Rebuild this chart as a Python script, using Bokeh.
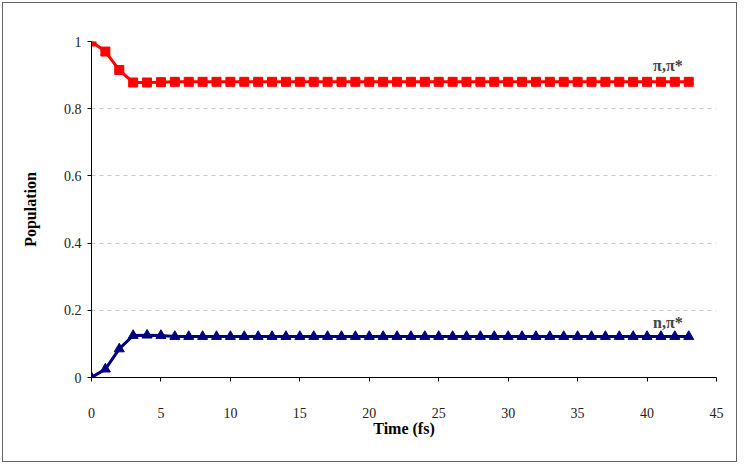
from bokeh.plotting import figure
from bokeh.embed import file_html
from bokeh.resources import INLINE
from bokeh.models import FixedTicker, CustomJSTickFormatter, Label

time_fs = list(range(0, 44))
pipi = [1.0, 0.97, 0.915, 0.878, 0.878, 0.879] + [0.88] * 38
npi = [0.0, 0.025, 0.085, 0.125, 0.126, 0.125] + [0.122] * 38
x_ticks = [0, 5, 10, 15, 20, 25, 30, 35, 40, 45]
y_ticks = [0, 0.2, 0.4, 0.6, 0.8, 1.0]

FONT = "Liberation Serif"

p = figure(width=735, height=460, x_range=(0, 45), y_range=(0, 1),
           output_backend="svg", toolbar_location=None,
           min_border_left=88, min_border_right=22, min_border_top=38, min_border_bottom=86)
p.styles = {"border": "1px solid #666", "margin": "2px"}
p.outline_line_color = None
p.xgrid.grid_line_color = None
p.ygrid.grid_line_color = "#c8c8c8"
p.ygrid.grid_line_dash = "4 4"
p.ygrid.grid_line_width = 1

p.line(time_fs, pipi, line_color="#ff0000", line_width=3)
p.scatter(time_fs, pipi, marker="square", size=9, fill_color="#ff0000", line_color="#ff0000")
p.line(time_fs, npi, line_color="#000080", line_width=3)
p.scatter(time_fs, npi, marker="triangle", size=10, fill_color="#000080", line_color="#000080")

fmt = CustomJSTickFormatter(code="return String(Math.round(tick*10)/10);")
for ax, ticks in ((p.xaxis[0], x_ticks), (p.yaxis[0], y_ticks)):
    ax.ticker = FixedTicker(ticks=ticks)
    ax.formatter = fmt
    ax.minor_tick_line_color = None
    ax.major_tick_in = 0
    ax.major_tick_out = 4
    ax.axis_line_color = "#000000"
    ax.major_tick_line_color = "#000000"
    ax.major_label_text_font = FONT
    ax.major_label_text_font_size = "14px"
    ax.major_label_text_color = "#222222"
    ax.axis_label_text_font = FONT
    ax.axis_label_text_font_style = "bold"
    ax.axis_label_text_font_size = "16px"
    ax.axis_label_text_color = "#000000"

p.xaxis[0].axis_label = "Time (fs)"
p.xaxis[0].major_label_standoff = 26
p.xaxis[0].axis_label_standoff = -1
p.yaxis[0].axis_label = "Population"
p.yaxis[0].major_label_standoff = 6
p.yaxis[0].axis_label_standoff = 22

p.add_layout(Label(x=41.5, y=0.93, text="π,π*", text_font=FONT, text_font_style="bold",
                   text_font_size="16px", text_align="center", text_baseline="middle"))
p.add_layout(Label(x=41.5, y=0.164, text="n,π*", text_font=FONT, text_font_style="bold",
                   text_font_size="16px", text_align="center", text_baseline="middle"))

open("out.html", "w").write(file_html(p, INLINE))
